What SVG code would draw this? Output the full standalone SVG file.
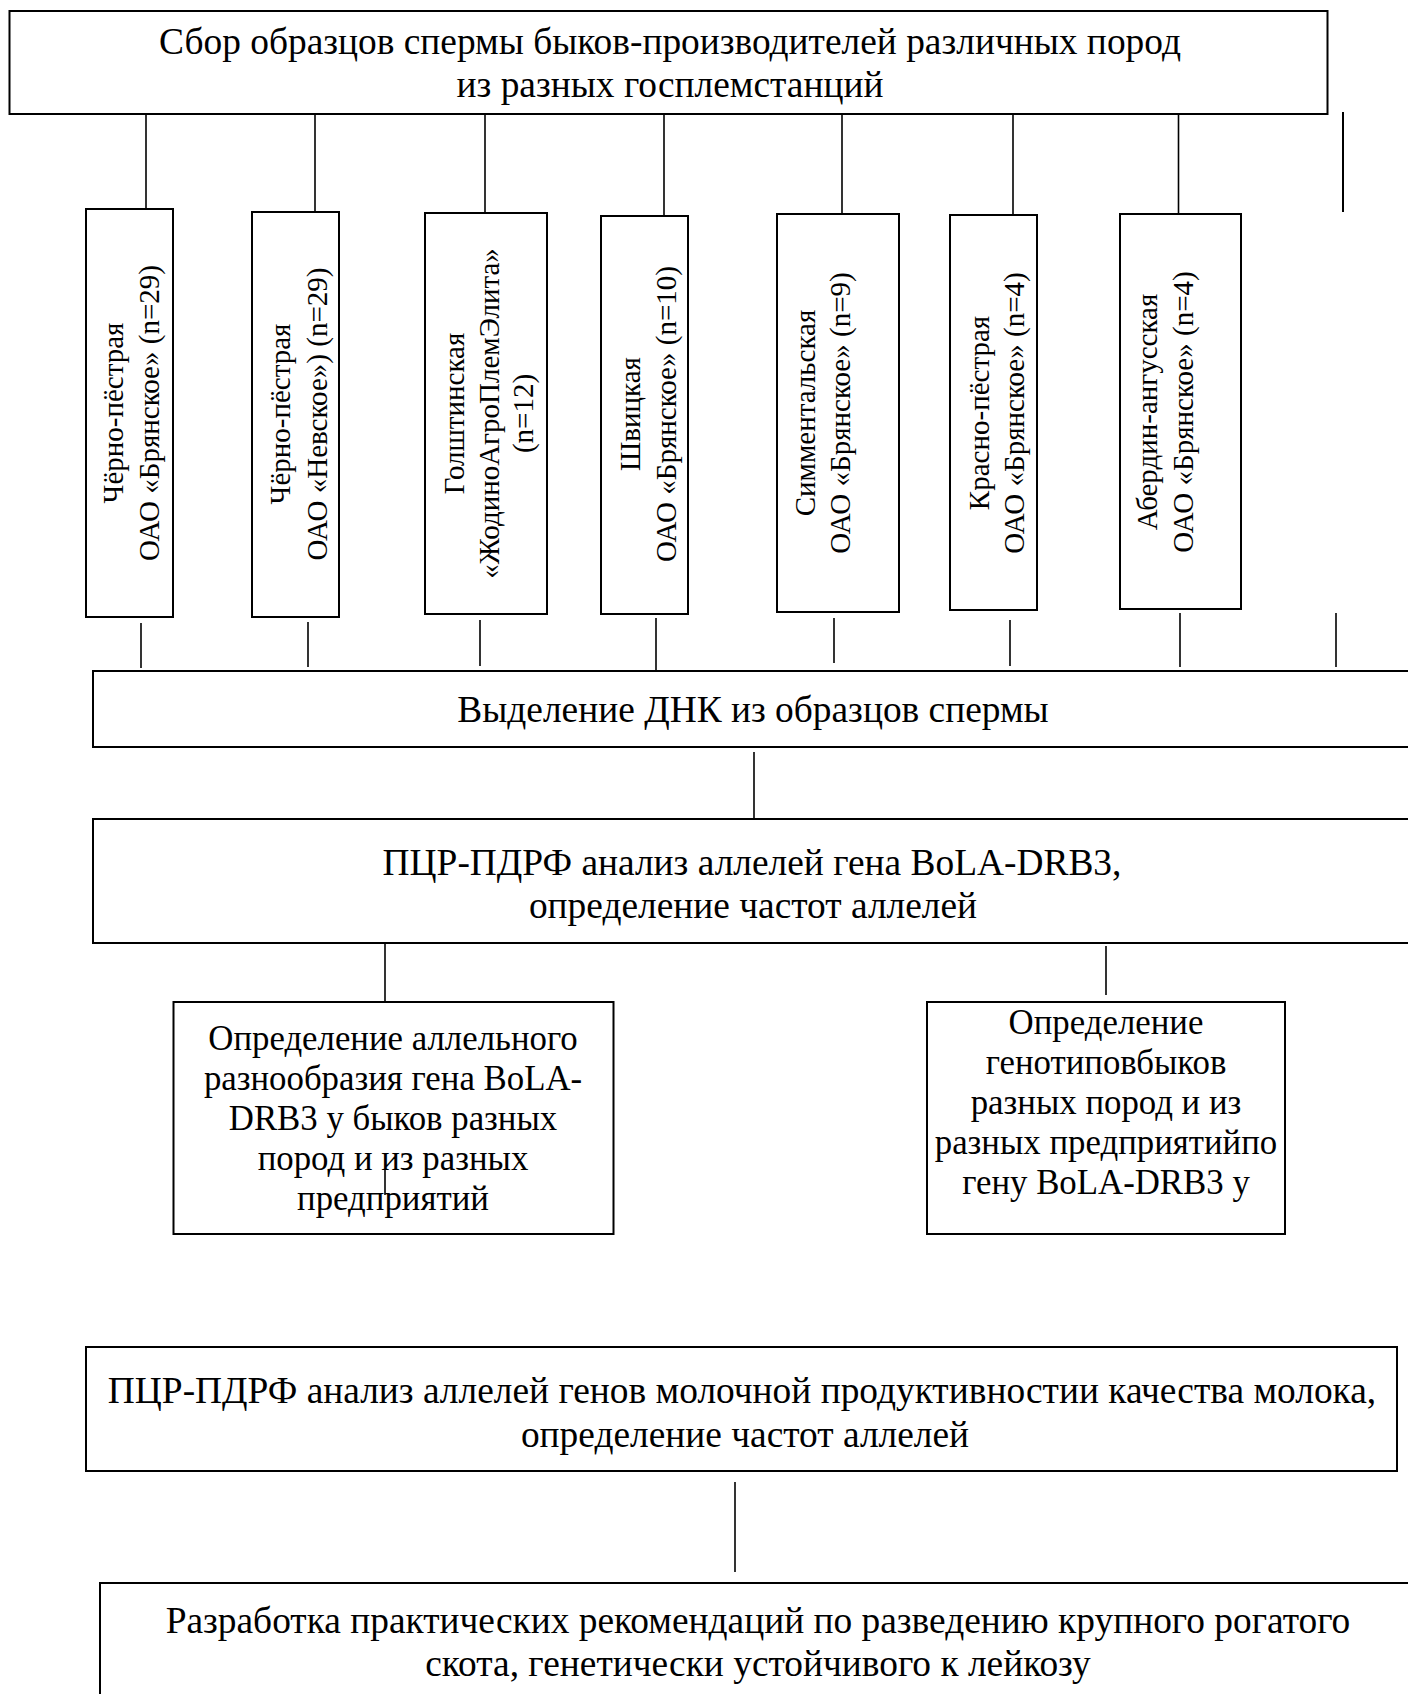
<svg xmlns="http://www.w3.org/2000/svg" width="1408" height="1694" viewBox="0 0 1408 1694">
<style>
.box{fill:#fff;stroke:#000;stroke-width:2}
.ln{stroke:#000;stroke-width:1.6;fill:none}
text{font-family:"Liberation Serif","Times New Roman",serif;fill:#000;text-anchor:middle}
.h{font-size:37.4px}
.m{font-size:34.8px}
.v{font-size:29px}
</style>
<rect width="1408" height="1694" fill="#fff"/>
<g id="connectors">
<line class="ln" x1="146" y1="114" x2="146" y2="209"/>
<line class="ln" x1="315" y1="114" x2="315" y2="212"/>
<line class="ln" x1="485" y1="114" x2="485" y2="213"/>
<line class="ln" x1="664" y1="114" x2="664" y2="216"/>
<line class="ln" x1="842" y1="114" x2="842" y2="214"/>
<line class="ln" x1="1013" y1="114" x2="1013" y2="215"/>
<line class="ln" x1="1178.5" y1="114" x2="1178.5" y2="214"/>
<line class="ln" x1="1343" y1="112" x2="1343" y2="212" style="stroke-width:2"/>
<line class="ln" x1="141" y1="623" x2="141" y2="668"/>
<line class="ln" x1="308" y1="622" x2="308" y2="667"/>
<line class="ln" x1="480" y1="620" x2="480" y2="666"/>
<line class="ln" x1="656" y1="618" x2="656" y2="671"/>
<line class="ln" x1="834" y1="618" x2="834" y2="663"/>
<line class="ln" x1="1010" y1="620" x2="1010" y2="666"/>
<line class="ln" x1="1180" y1="613" x2="1180" y2="667"/>
<line class="ln" x1="1336" y1="613" x2="1336" y2="667"/>
<line class="ln" x1="754" y1="752" x2="754" y2="819"/>
<line class="ln" x1="385" y1="943" x2="385" y2="1002"/>
<line class="ln" x1="1106" y1="946" x2="1106" y2="995"/>
<line class="ln" x1="735" y1="1482" x2="735" y2="1572"/>
</g>
<g id="n-top">
<rect class="box" x="9.5" y="11" width="1318" height="103"/>
<text class="h" x="670" y="54">Сбор образцов спермы быков-производителей различных пород</text>
<text class="h" x="670" y="97">из разных госплемстанций</text>
</g>
<g id="n-b1">
<rect class="box" x="86" y="209" width="87" height="408"/>
<text class="v" transform="translate(122.5,413) rotate(-90)">Чёрно-пёстрая</text>
<text class="v" transform="translate(159,413) rotate(-90)">ОАО «Брянское» (n=29)</text>
</g>
<g id="n-b2">
<rect class="box" x="252" y="212" width="87" height="405"/>
<text class="v" transform="translate(290,414) rotate(-90)">Чёрно-пёстрая</text>
<text class="v" transform="translate(327,414) rotate(-90)">ОАО «Невское») (n=29)</text>
</g>
<g id="n-b3">
<rect class="box" x="425" y="213" width="122" height="401"/>
<text class="v" transform="translate(464,413.5) rotate(-90)">Голштинская</text>
<text class="v" transform="translate(499,413.5) rotate(-90)">«ЖодиноАгроПлемЭлита»</text>
<text class="v" transform="translate(533,413.5) rotate(-90)">(n=12)</text>
</g>
<g id="n-b4">
<rect class="box" x="601" y="216" width="87" height="398"/>
<text class="v" transform="translate(640,414) rotate(-90)">Швицкая</text>
<text class="v" transform="translate(676,414) rotate(-90)">ОАО «Брянское» (n=10)</text>
</g>
<g id="n-b5">
<rect class="box" x="777" y="214" width="122" height="398"/>
<text class="v" transform="translate(815,413) rotate(-90)">Симментальская</text>
<text class="v" transform="translate(850,413) rotate(-90)">ОАО «Брянское» (n=9)</text>
</g>
<g id="n-b6">
<rect class="box" x="950" y="215" width="87" height="395"/>
<text class="v" transform="translate(989,413) rotate(-90)">Красно-пёстрая</text>
<text class="v" transform="translate(1024,413) rotate(-90)">ОАО «Брянское» (n=4)</text>
</g>
<g id="n-b7">
<rect class="box" x="1120" y="214" width="121" height="395"/>
<text class="v" transform="translate(1157,412) rotate(-90)">Абердин-ангусская</text>
<text class="v" transform="translate(1193,412) rotate(-90)">ОАО «Брянское» (n=4)</text>
</g>
<g id="n-dna">
<rect class="box" x="93" y="671" width="1340" height="76"/>
<text class="h" x="753" y="721.5">Выделение ДНК из образцов спермы</text>
</g>
<g id="n-pcr">
<rect class="box" x="93" y="819" width="1340" height="124"/>
<text class="h" x="752" y="875">ПЦР-ПДРФ анализ аллелей гена BoLA-DRB3,</text>
<text class="h" x="753" y="918">определение частот аллелей</text>
</g>
<g id="n-a">
<rect class="box" x="173.5" y="1002" width="440" height="232"/>
<text class="m" x="393" y="1050">Определение аллельного</text>
<text class="m" x="393" y="1090">разнообразия гена BoLA-</text>
<text class="m" x="393" y="1130">DRB3 у быков разных</text>
<text class="m" x="393" y="1170">пород и из разных</text>
<text class="m" x="393" y="1210">предприятий</text>
<line class="ln" x1="385" y1="1170" x2="385" y2="1195"/>
</g>
<g id="n-b">
<rect class="box" x="927" y="1002" width="358" height="232"/>
<text class="m" x="1106" y="1034">Определение</text>
<text class="m" x="1106" y="1074">генотиповбыков</text>
<text class="m" x="1106" y="1114">разных пород и из</text>
<text class="m" x="1106" y="1154">разных предприятийпо</text>
<text class="m" x="1106" y="1194">гену BoLA-DRB3 у</text>
</g>
<g id="n-milk">
<rect class="box" x="86" y="1347" width="1311" height="124"/>
<text class="h" x="742" y="1403">ПЦР-ПДРФ анализ аллелей генов молочной продуктивностии качества молока,</text>
<text class="h" x="745" y="1447">определение частот аллелей</text>
</g>
<g id="n-rec">
<rect class="box" x="100" y="1583" width="1340" height="140"/>
<text class="h" x="758" y="1633">Разработка практических рекомендаций по разведению крупного рогатого</text>
<text class="h" x="758" y="1676">скота, генетически устойчивого к лейкозу</text>
</g>
</svg>
